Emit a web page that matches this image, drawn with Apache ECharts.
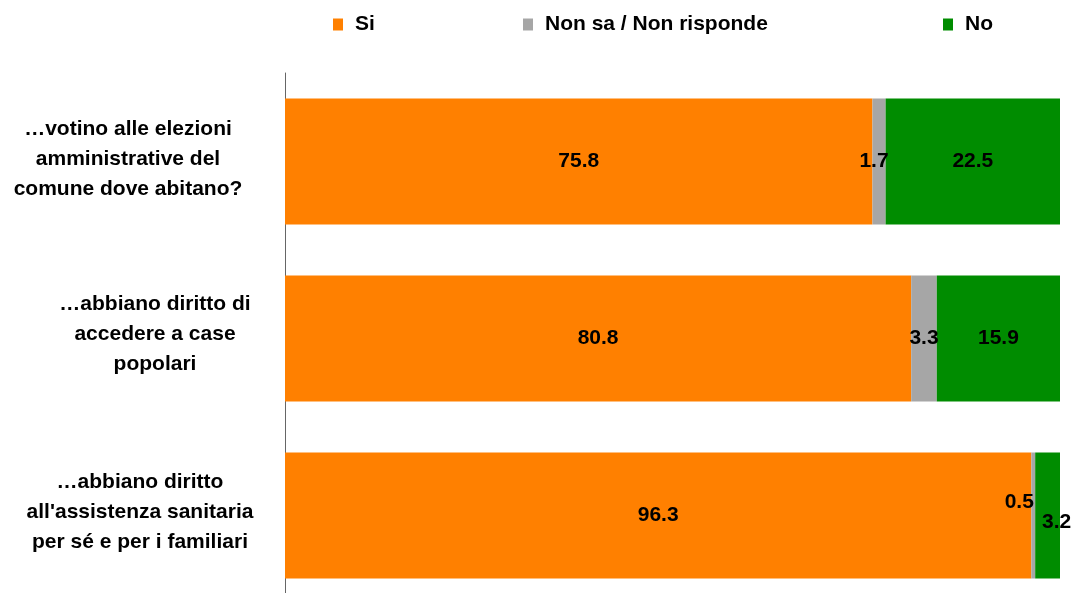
<!DOCTYPE html>
<html>
<head>
<meta charset="utf-8">
<script src="https://cdn.jsdelivr.net/npm/echarts@6/dist/echarts.min.js"></script>
<style>html,body{margin:0;padding:0;background:#fff}#c{width:1076px;height:593px}</style>
</head>
<body>
<div id="c"></div>
<script>
const categories = [
  "…votino alle elezioni\namministrative del\ncomune dove abitano?",
  "…abbiano diritto di\naccedere a case\npopolari",
  "…abbiano diritto\nall'assistenza sanitaria\nper sé e per i familiari"
];
const seriesNames = ["Si", "Non sa / Non risponde", "No"];
const siValues = [75.8, 80.8, 96.3];
const nonSaValues = [1.7, 3.3, 0.5];
const noValues = [22.5, 15.9, 3.2];

const FONT = "'Liberation Sans', Arial, sans-serif";
const colors = ["#FF8000", "#A6A6A6", "#008C00"];
// per-category left padding of the axis label block (visual only)
const labelShift = [0, 54, 24];
// manual label nudges (visual only), keyed by series index and category index
const labelNudge = {
  "1-0": [-5, 0],
  "1-2": [-14, -13],
  "2-2": [9, 7]
};

function buildData(values, si) {
  return values.map((v, ci) => {
    const n = labelNudge[si + "-" + ci];
    return n ? { value: v, label: { offset: n } } : v;
  });
}

const chart = echarts.init(document.getElementById('c'), null, { renderer: 'canvas' });
const legendLeft = [333, 523, 943];
const allValues = [siValues, nonSaValues, noValues];
const spacerRich = {
  s0: { fontSize: 1, lineHeight: 4 },
  s1: { fontSize: 1, lineHeight: 8 },
  s2: { fontSize: 1, lineHeight: 7 }
};
const axisLabelStyle = {
  align: 'center',
  verticalAlign: 'middle',
  fontFamily: FONT,
  fontSize: 21,
  fontWeight: 'bold',
  lineHeight: 30,
  color: '#000',
  rich: spacerRich
};

chart.setOption({
  animation: false,
  textStyle: { fontFamily: FONT },
  legend: seriesNames.map((n, i) => ({
    data: [n],
    left: legendLeft[i],
    top: 14,
    padding: 0,
    itemWidth: 10,
    itemHeight: 12,
    icon: 'rect',
    selectedMode: false,
    textStyle: { fontFamily: FONT, fontSize: 21, fontWeight: 'bold', color: '#000', padding: [0, 0, 0, 7] }
  })),
  grid: { left: 285, width: 775, top: 73, height: 531, containLabel: false, outerBoundsMode: 'none' },
  xAxis: { type: 'value', min: 0, max: 100, show: false },
  yAxis: {
    type: 'category',
    inverse: true,
    data: categories.map((c, i) => ({
      value: c,
      textStyle: Object.assign({}, axisLabelStyle, { padding: [0, 0, 0, labelShift[i]] })
    })),
    axisLine: { show: true, lineStyle: { color: '#666666', width: 1 } },
    axisTick: { show: false },
    axisLabel: Object.assign({
      margin: 157,
      formatter: (value, index) => value + '\n{s' + index + '| }'
    }, axisLabelStyle)
  },
  series: seriesNames.map((n, si) => ({
    name: n,
    type: 'bar',
    stack: 'total',
    barWidth: 126,
    itemStyle: { color: colors[si] },
    label: {
      show: true,
      position: 'inside',
      fontFamily: FONT,
      fontSize: 21,
      fontWeight: 'bold',
      color: '#000',
      formatter: p => p.value.toFixed(1)
    },
    data: buildData(allValues[si], si)
  }))
});
</script>
</body>
</html>
